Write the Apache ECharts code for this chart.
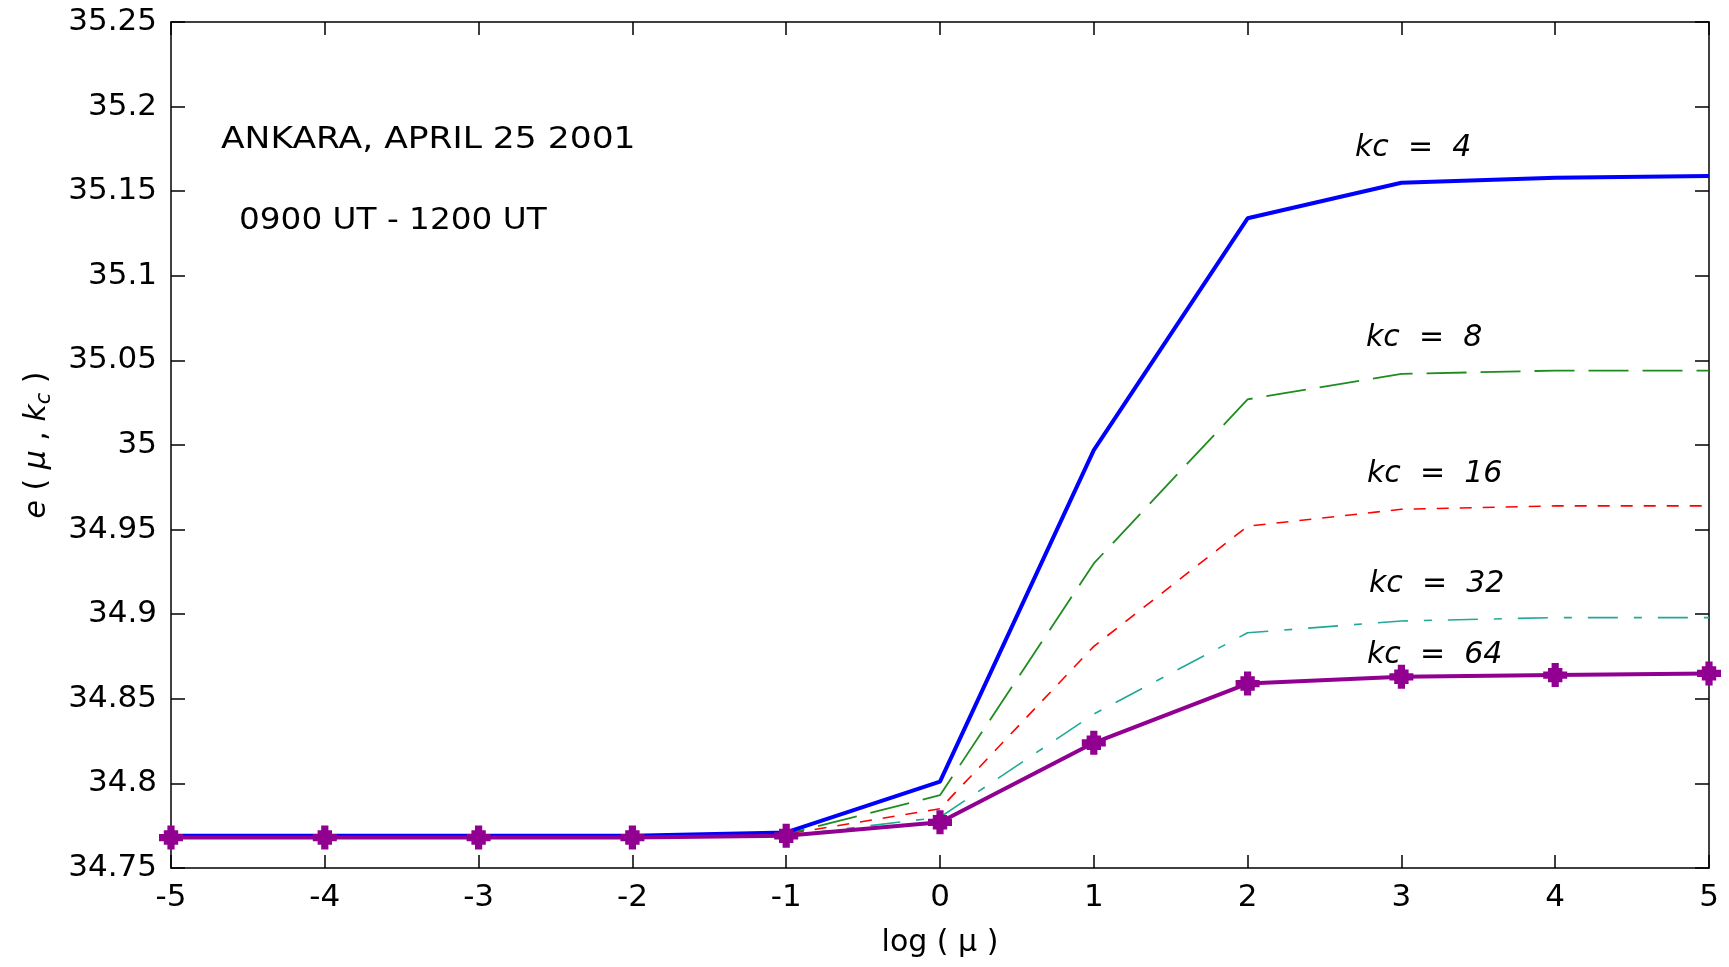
<!DOCTYPE html>
<html>
<head>
<meta charset="utf-8">
<script src="https://cdn.jsdelivr.net/npm/echarts@6/dist/echarts.min.js"></script>
<style>
  html, body { margin: 0; padding: 0; background: #fff; }
  #main { width: 1729px; height: 967px; }
</style>
</head>
<body>
<div id="main"></div>
<script>
// log(mu) values along the x axis
var logMu = [-5, -4, -3, -2, -1, 0, 1, 2, 3, 4, 5];

// e(mu, kc), one array per cut-off
var kc4  = [34.769, 34.769, 34.769, 34.769, 34.771, 34.801, 34.997, 35.134, 35.155, 35.158, 35.159];
var kc8  = [34.769, 34.769, 34.769, 34.769, 34.770, 34.793, 34.930, 35.027, 35.042, 35.044, 35.044];
var kc16 = [34.769, 34.769, 34.769, 34.769, 34.770, 34.785, 34.881, 34.952, 34.962, 34.964, 34.964];
var kc32 = [34.769, 34.769, 34.769, 34.769, 34.769, 34.780, 34.841, 34.889, 34.896, 34.898, 34.898];
var kc64 = [34.768, 34.768, 34.768, 34.768, 34.769, 34.777, 34.824, 34.859, 34.863, 34.864, 34.865];

var seriesNames = ['kc = 4', 'kc = 8', 'kc = 16', 'kc = 32', 'kc = 64'];

function pairs(ys) {
    return logMu.map(function (x, i) { return [x, ys[i]]; });
}

window.addEventListener("load", () => {
    var chartDom = document.getElementById('main');
    var myChart = echarts.init(chartDom);
    var font = '"DejaVu Sans", Verdana, sans-serif';
    var axisCol = '#000';

    var plus = 'path://M3.5,0H6.5V2H8V3.5H10V6.5H8V8H6.5V10H3.5V8H2V6.5H0V3.5H2V2H3.5Z';

    var option = {
        animation: false,
        backgroundColor: '#fff',
        grid: { left: 171, right: 20, top: 22, bottom: 99 },
        xAxis: [
            {
                type: 'value', min: -5, max: 5, interval: 1,
                name: 'log ( μ )', nameLocation: 'middle', nameGap: 60,
                nameTextStyle: { fontFamily: font, fontSize: 30, color: '#000' },
                axisLine: { show: true, onZero: false, lineStyle: { color: axisCol, width: 1.5 } },
                axisTick: { show: true, inside: true, length: 13, lineStyle: { color: axisCol, width: 1.5 } },
                axisLabel: { fontFamily: font, fontSize: 31, color: '#000', margin: 14 },
                splitLine: { show: false }
            },
            {
                type: 'value', min: -5, max: 5, interval: 1, position: 'top',
                axisLine: { show: true, onZero: false, lineStyle: { color: axisCol, width: 1.5 } },
                axisTick: { show: true, inside: true, length: 13, lineStyle: { color: axisCol, width: 1.5 } },
                axisLabel: { show: false },
                splitLine: { show: false }
            }
        ],
        yAxis: [
            {
                type: 'value', min: 34.75, max: 35.25, interval: 0.05,
                name: '{i|e} ( {i|μ} , {i|k}{s|c} )',
                nameLocation: 'middle', nameGap: 116, nameRotate: 90,
                nameTextStyle: {
                    fontFamily: font, fontSize: 30, color: '#000',
                    rich: {
                        i: { fontFamily: font, fontSize: 30, fontStyle: 'italic' },
                        s: { fontFamily: font, fontSize: 21, fontStyle: 'italic', padding: [14, 0, 0, 0] }
                    }
                },
                axisLine: { show: true, onZero: false, lineStyle: { color: axisCol, width: 1.5 } },
                axisTick: { show: true, inside: true, length: 14, lineStyle: { color: axisCol, width: 1.5 } },
                axisLabel: {
                    fontFamily: font, fontSize: 31, color: '#000', margin: 14,
                    formatter: function (v) { return String(+v.toFixed(2)); }
                },
                splitLine: { show: false }
            },
            {
                type: 'value', min: 34.75, max: 35.25, interval: 0.05, position: 'right',
                axisLine: { show: true, onZero: false, lineStyle: { color: axisCol, width: 1.5 } },
                axisTick: { show: true, inside: true, length: 14, lineStyle: { color: axisCol, width: 1.5 } },
                axisLabel: { show: false },
                splitLine: { show: false }
            }
        ],
        series: [
            {
                name: seriesNames[3], type: 'line', data: pairs(kc32), showSymbol: false,
                lineStyle: { color: '#20a898', width: 1.6, type: [30, 16, 8, 16] }
            },
            {
                name: seriesNames[2], type: 'line', data: pairs(kc16), showSymbol: false,
                lineStyle: { color: '#ff0000', width: 1.6, type: [12, 11] }
            },
            {
                name: seriesNames[1], type: 'line', data: pairs(kc8), showSymbol: false,
                lineStyle: { color: '#1f8c1f', width: 1.8, type: [40, 14] }
            },
            {
                name: seriesNames[0], type: 'line', data: pairs(kc4), showSymbol: false,
                lineStyle: { color: '#0000ff', width: 4 }
            },
            {
                name: seriesNames[4], type: 'line', data: pairs(kc64),
                symbol: plus, symbolSize: 24,
                itemStyle: { color: '#910091' },
                lineStyle: { color: '#910091', width: 4 }
            }
        ],
        graphic: [
            { type: 'text', left: 221, top: 125, scaleX: 1.15, style: { text: 'ANKARA, APRIL 25 2001', font: '30px ' + font, fill: '#000' } },
            { type: 'text', left: 239, top: 206, scaleX: 1.09, style: { text: '0900 UT - 1200 UT', font: '30px ' + font, fill: '#000' } },
            { type: 'text', left: 1355, top: 133, style: { text: 'kc  =  4', font: 'italic 30px ' + font, fill: '#000' } },
            { type: 'text', left: 1366, top: 323, style: { text: 'kc  =  8', font: 'italic 30px ' + font, fill: '#000' } },
            { type: 'text', left: 1367, top: 459, style: { text: 'kc  =  16', font: 'italic 30px ' + font, fill: '#000' } },
            { type: 'text', left: 1369, top: 569, style: { text: 'kc  =  32', font: 'italic 30px ' + font, fill: '#000' } },
            { type: 'text', left: 1367, top: 640, style: { text: 'kc  =  64', font: 'italic 30px ' + font, fill: '#000' } }
        ]
    };

    myChart.setOption(option);
});
</script>
</body>
</html>
